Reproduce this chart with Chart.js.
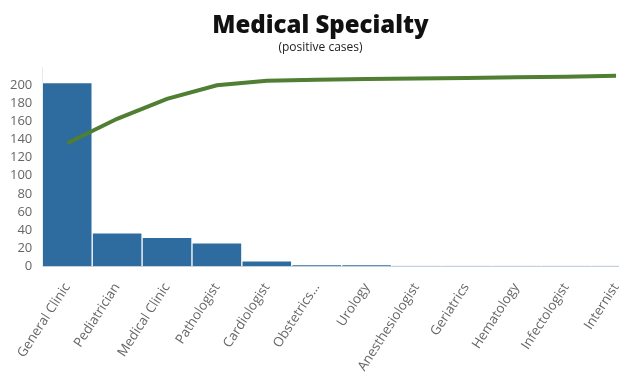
<!DOCTYPE html>
<html>
<head>
<meta charset="utf-8">
<script src="https://cdn.jsdelivr.net/npm/chart.js@4/dist/chart.umd.min.js"></script>
<style>
  html, body { margin: 0; padding: 0; background: #fff; overflow: hidden; }
  #wrap { width: 645px; height: 372px; }
</style>
</head>
<body>
<div id="wrap"><canvas id="c" width="645" height="372"></canvas></div>
<script>
const categories = ["General Clinic", "Pediatrician", "Medical Clinic", "Pathologist", "Cardiologist", "Obstetrics…", "Urology", "Anesthesiologist", "Geriatrics", "Hematology", "Infectologist", "Internist"];
const positiveCases = [203, 37, 32, 26, 6, 1.5, 1.5, 0.3, 0.3, 0.3, 0.3, 0.3];
const cumulativeLine = [136, 163, 185, 200, 205, 206, 207, 207.5, 208, 209, 209.5, 210.5];
const yTicks = [0, 20, 40, 60, 80, 100, 120, 140, 160, 180, 200];

new Chart(document.getElementById('c'), {
  data: {
    labels: categories,
    datasets: [
      {
        type: 'line',
        data: cumulativeLine,
        borderColor: '#507E32',
        borderWidth: 4,
        pointRadius: 0,
        tension: 0,
        fill: false,
        order: 0
      },
      {
        type: 'bar',
        data: positiveCases,
        backgroundColor: '#2E6CA0',
        borderColor: 'rgba(255,255,255,0.35)',
        borderWidth: 1,
        categoryPercentage: 1.0,
        barPercentage: 1.0,
        order: 1
      }
    ]
  },
  options: {
    responsive: false,
    animation: false,
    layout: { padding: { left: 0, right: 4, top: 0, bottom: -16 } },
    plugins: {
      legend: { display: false },
      tooltip: { enabled: false },
      title: {
        display: true,
        text: 'Medical Specialty',
        color: '#111',
        font: { family: 'Open Sans', size: 24, weight: '800' },
        padding: { top: 12, bottom: 0 }
      },
      subtitle: {
        display: true,
        text: '(positive cases)',
        color: '#222',
        font: { family: 'Open Sans', size: 12 },
        padding: { top: 0, bottom: 12 }
      }
    },
    scales: {
      x: {
        grid: { display: false, drawTicks: false },
        border: { display: true, color: '#C9D4E2', width: 1 },
        ticks: {
          color: '#666',
          font: { family: 'Open Sans', size: 13.3 },
          minRotation: 57,
          maxRotation: 57,
          autoSkip: false,
          padding: 14
        }
      },
      y: {
        min: 0,
        max: 220,
        grid: { display: false, drawTicks: false },
        border: { display: true, color: '#EBEBEB', width: 1 },
        afterBuildTicks: axis => { axis.ticks = yTicks.map(v => ({ value: v })); },
        ticks: {
          color: '#666',
          font: { family: 'Open Sans', size: 13 },
          padding: 10,
          autoSkip: false
        }
      }
    }
  }
});
</script>
</body>
</html>
